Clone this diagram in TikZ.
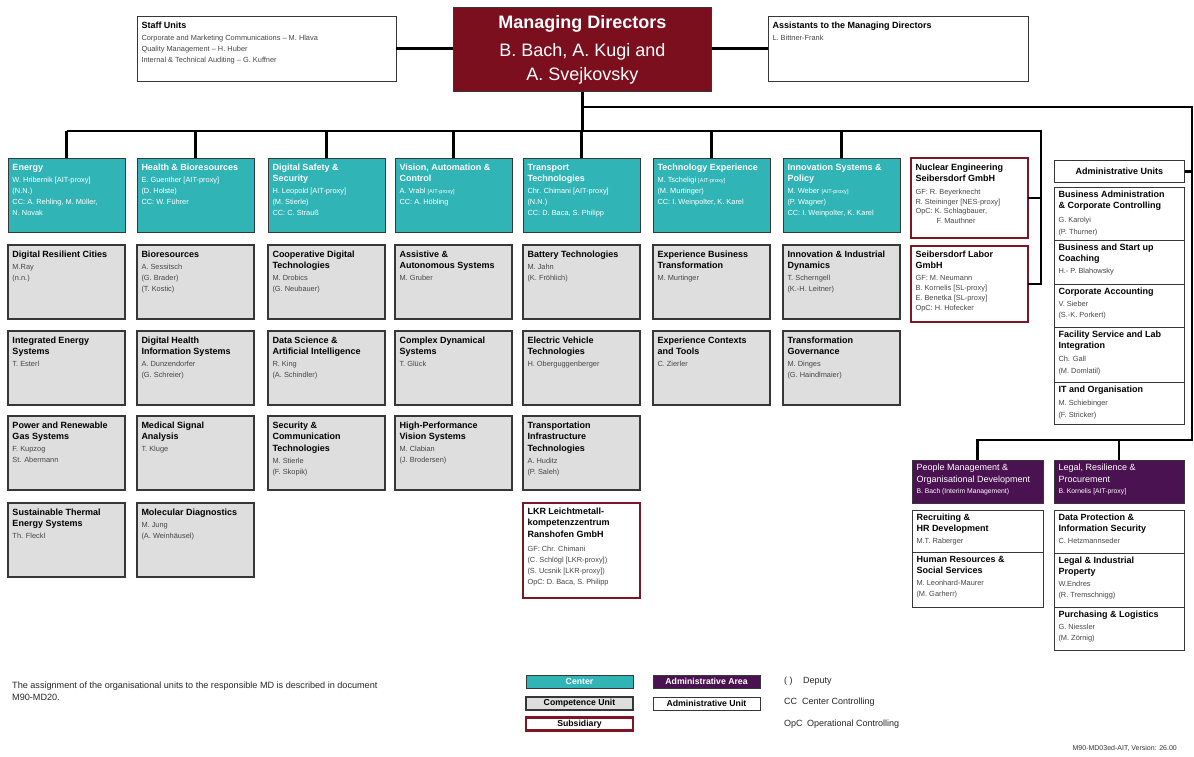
\documentclass[tikz,border=0pt]{standalone}
\usepackage{fontspec}
\setmainfont{Liberation Sans}
\definecolor{cteal}{RGB}{49,180,182}
\definecolor{cmd}{RGB}{123,15,30}
\definecolor{cpur}{RGB}{75,18,82}
\definecolor{cgry}{RGB}{222,222,222}
\definecolor{csub}{RGB}{125,22,38}
\definecolor{ctxt}{RGB}{70,70,70}
\definecolor{cbrd}{RGB}{55,55,55}
\newcommand\fbl{12pt}
\newcommand\ttl[1]{{\fontsize{9pt}{11.5pt}\selectfont\bfseries #1\par}\vspace{1pt}}
\newcommand\rtl[1]{{\fontsize{9pt}{12pt}\selectfont #1\par}}
\newcommand\cnt{\fontsize{7.4pt}{11pt}\selectfont}
\newcommand\cg{\fontsize{7.4pt}{11pt}\selectfont\color{ctxt}}
\newcommand\cgw{\fontsize{7.4pt}{12pt}\selectfont\color{ctxt}}
\newcommand\cns{\fontsize{7.4pt}{9.8pt}\selectfont\color{ctxt}}
\newcommand\sm[1]{{\fontsize{5.6pt}{11pt}\selectfont #1}}
\newcommand\orgbox[7]{\node[#2,anchor=north west,inner xsep=4.5pt,inner ysep=0pt,outer sep=0pt] (#1) at (#3,#4) {\parbox[t][#6pt][t]{\dimexpr#5pt-9pt\relax}{\raggedright\rule{0pt}{\fbl}#7}};}
\tikzset{
  ctrbox/.style={draw=cbrd,line width=1pt,fill=cteal,text=white},
  compbox/.style={draw=cbrd,line width=1.1pt,fill=cgry,text=black},
  subbox/.style={draw=csub,line width=1.8pt,fill=white,text=black},
  aunit/.style={draw=cbrd,line width=0.9pt,fill=white,text=black},
  areabox/.style={draw=cbrd,line width=0.9pt,fill=cpur,text=white},
  mdbox/.style={draw=cbrd,line width=0.8pt,fill=cmd,text=white},
  conn/.style={line width=2.3pt,black},
  legbox/.style={minimum width=107pt,minimum height=13pt,inner sep=0pt,font=\fontsize{8.7pt}{10pt}\selectfont\bfseries},
  legtxt/.style={anchor=base west,inner sep=0pt,font=\fontsize{9pt}{10pt}\selectfont,text=black!85}
}
\begin{document}
\begin{tikzpicture}[x=1pt,y=-1pt]
\fill[white] (0,0) rectangle (1194,756);
\useasboundingbox (0,0) rectangle (1194,756);

% top level
\orgbox{staff}{aunit}{137}{16}{259}{65}{\ttl{Staff Units}\cg Corporate and Marketing Communications – M. Hlava\\Quality Management – H. Huber\\Internal \& Technical Auditing – G. Kuffner}
\node[mdbox,anchor=north west,minimum width=258pt,minimum height=84pt,inner sep=0pt,align=center,font=\fontsize{18pt}{24pt}\selectfont] (md) at (453,7) {\textbf{Managing Directors}\\[4pt]B. Bach, A. Kugi and\\A. Svejkovsky};
\orgbox{asst}{aunit}{768}{16}{260}{65}{\ttl{Assistants to the Managing Directors}\cg L. Bittner-Frank}

% centers
\orgbox{c1}{ctrbox}{8}{158}{117}{74}{\ttl{Energy}\cnt W. Hribernik [AIT-proxy]\\(N.N.)\\CC: A. Rehling, M. Müller,\\N. Novak}
\orgbox{c2}{ctrbox}{137}{158}{117}{74}{\ttl{Health \& Bioresources}\cnt E. Guenther [AIT-proxy]\\(D. Holste)\\CC: W. Führer}
\orgbox{c3}{ctrbox}{268}{158}{117}{74}{\ttl{Digital Safety \&\\Security}\cnt H. Leopold [AIT-proxy]\\(M. Stierle)\\CC: C. Strauß}
\orgbox{c4}{ctrbox}{395}{158}{117}{74}{\ttl{Vision, Automation \&\\Control}\cnt A. Vrabl \sm{[AIT-proxy]}\\CC: A. Höbling}
\orgbox{c5}{ctrbox}{523}{158}{117}{74}{\ttl{Transport\\Technologies}\cnt Chr. Chimani [AIT-proxy]\\(N.N.)\\CC: D. Baca, S. Philipp}
\orgbox{c6}{ctrbox}{653}{158}{117}{74}{\ttl{Technology Experience}\cnt M. Tscheligi \sm{[AIT-proxy]}\\(M. Murtinger)\\CC: I. Weinpolter, K. Karel}
\orgbox{c7}{ctrbox}{783}{158}{117}{74}{\ttl{Innovation Systems \&\\Policy}\cnt M. Weber \sm{[AIT-proxy]}\\(P. Wagner)\\CC: I. Weinpolter, K. Karel}

% competence units
\orgbox{u11}{compbox}{8}{245}{117}{74}{\ttl{Digital Resilient Cities}\cg M.Ray\\(n.n.)}
\orgbox{u12}{compbox}{8}{331}{117}{74}{\ttl{Integrated Energy\\Systems}\cg T. Esterl}
\orgbox{u13}{compbox}{8}{416}{117}{74}{\ttl{Power and Renewable\\Gas Systems}\cg F. Kupzog\\St. Abermann}
\orgbox{u14}{compbox}{8}{503}{117}{74}{\ttl{Sustainable Thermal\\Energy Systems}\cg Th. Fleckl}
\orgbox{u21}{compbox}{137}{245}{117}{74}{\ttl{Bioresources}\cg A. Sessitsch\\(G. Brader)\\(T. Kostic)}
\orgbox{u22}{compbox}{137}{331}{117}{74}{\ttl{Digital Health\\Information Systems}\cg A. Dunzendorfer\\(G. Schreier)}
\orgbox{u23}{compbox}{137}{416}{117}{74}{\ttl{Medical Signal\\Analysis}\cg T. Kluge}
\orgbox{u24}{compbox}{137}{503}{117}{74}{\ttl{Molecular Diagnostics}\cg M. Jung\\(A. Weinhäusel)}
\orgbox{u31}{compbox}{268}{245}{117}{74}{\ttl{Cooperative Digital\\Technologies}\cg M. Drobics\\(G. Neubauer)}
\orgbox{u32}{compbox}{268}{331}{117}{74}{\ttl{Data Science \&\\Artificial Intelligence}\cg R. King\\(A. Schindler)}
\orgbox{u33}{compbox}{268}{416}{117}{74}{\ttl{Security \&\\Communication\\Technologies}\cg M. Stierle\\(F. Skopik)}
\orgbox{u41}{compbox}{395}{245}{117}{74}{\ttl{Assistive \&\\Autonomous Systems}\cg M. Gruber}
\orgbox{u42}{compbox}{395}{331}{117}{74}{\ttl{Complex Dynamical\\Systems}\cg T. Glück}
\orgbox{u43}{compbox}{395}{416}{117}{74}{\ttl{High-Performance\\Vision Systems}\cg M. Clabian\\(J. Brodersen)}
\orgbox{u51}{compbox}{523}{245}{117}{74}{\ttl{Battery Technologies}\cg M. Jahn\\(K. Fröhlich)}
\orgbox{u52}{compbox}{523}{331}{117}{74}{\ttl{Electric Vehicle\\Technologies}\cg H. Oberguggenberger}
\orgbox{u53}{compbox}{523}{416}{117}{74}{\ttl{Transportation\\Infrastructure\\Technologies}\cg A. Huditz\\(P. Saleh)}
\orgbox{u61}{compbox}{653}{245}{117}{74}{\ttl{Experience Business\\Transformation}\cg M. Murtinger}
\orgbox{u62}{compbox}{653}{331}{117}{74}{\ttl{Experience Contexts\\and Tools}\cg C. Zierler}
\orgbox{u71}{compbox}{783}{245}{117}{74}{\ttl{Innovation \& Industrial\\Dynamics}\cg T. Scherngell\\(K.-H. Leitner)}
\orgbox{u72}{compbox}{783}{331}{117}{74}{\ttl{Transformation\\Governance}\cg M. Dinges\\(G. Haindlmaier)}

% subsidiaries
\begin{scope}
\renewcommand\fbl{11pt}
\orgbox{lkr}{subbox}{523}{503}{117}{95}{\ttl{LKR Leichtmetall-\\kompetenzzentrum\\Ranshofen GmbH}\vspace{2pt}\cg GF: Chr. Chimani\\(C. Schlögl [LKR-proxy])\\(S. Ucsnik [LKR-proxy])\\OpC: D. Baca, S. Philipp}
\orgbox{sl}{subbox}{911}{246}{117}{76}{\ttl{Seibersdorf Labor\\GmbH}\vspace{1.5pt}\cns GF: M. Neumann\\B. Kornelis [SL-proxy]\\E. Benetka [SL-proxy]\\OpC: H. Hofecker}
\end{scope}
\orgbox{nes}{subbox}{911}{158}{117}{80}{\ttl{Nuclear Engineering\\Seibersdorf GmbH}\vspace{2pt}\cns GF: R. Beyerknecht\\R. Steininger [NES-proxy]\\OpC: K. Schlagbauer,\\\hspace*{21pt}F. Mauthner}

% administrative units
\node[aunit,anchor=north west,minimum width=130pt,minimum height=22pt,inner sep=0pt,font=\fontsize{9pt}{11pt}\selectfont\bfseries] (au) at (1054,160) {Administrative Units};
\begin{scope}
\renewcommand\fbl{10pt}
\orgbox{ba}{aunit}{1054}{187}{130}{53}{\ttl{Business Administration\\\& Corporate Controlling}\vspace{0.5pt}\cgw G. Karolyi\\(P. Thurner)}
\orgbox{bs}{aunit}{1054}{240}{130}{44}{\ttl{Business and Start up\\Coaching}\cg H.- P. Blahowsky}
\orgbox{ca}{aunit}{1054}{284}{130}{43}{\ttl{Corporate Accounting}\cg V. Sieber\\(S.-K. Porkert)}
\orgbox{fs}{aunit}{1054}{327}{130}{55}{\ttl{Facility Service and Lab\\Integration}\cgw Ch. Gall\\(M. Domlatil)}
\orgbox{it}{aunit}{1054}{382}{130}{42}{\ttl{IT and Organisation}\cgw M. Schiebinger\\(F. Stricker)}

\orgbox{pm}{areabox}{912}{460}{131}{43}{\rtl{People Management \&\\Organisational Development}\fontsize{6.8pt}{11.5pt}\selectfont B. Bach (Interim Management)}
\orgbox{lr}{areabox}{1054}{460}{130}{43}{\rtl{Legal, Resilience \&\\Procurement}\fontsize{6.8pt}{11.5pt}\selectfont B. Kornelis [AIT-proxy]}

\orgbox{rec}{aunit}{912}{510}{131}{42}{\ttl{Recruiting \&\\HR Development}\cg M.T. Raberger}
\orgbox{hr}{aunit}{912}{552}{131}{55}{\ttl{Human Resources \&\\Social Services}\cg M. Leonhard-Maurer\\(M. Garherr)}
\orgbox{dp}{aunit}{1054}{510}{130}{43}{\ttl{Data Protection \&\\Information Security}\cg C. Hetzmannseder}
\orgbox{li}{aunit}{1054}{553}{130}{54}{\ttl{Legal \& Industrial\\Property}\cg W.Endres\\(R. Tremschnigg)}
\orgbox{pl}{aunit}{1054}{607}{130}{43}{\ttl{Purchasing \& Logistics}\cg G. Niessler\\(M. Zörnig)}
\end{scope}

% connectors
\coordinate (tl) at (1192,107);
\coordinate (bl) at (1041,131);
\coordinate (ab) at (1192,440);
\draw[conn] (staff.east) -- (staff.east -| md.west);
\draw[conn] (asst.west -| md.east) -- (asst.west);
\draw[conn] (md.south) -- (md.south |- bl);
\draw[conn] (md.south |- tl) -- (tl) -- (ab) -- (pm.north |- ab) -- (pm.north);
\draw[conn] (lr.north |- ab) -- (lr.north);
\draw[conn] (au.east) -- (au.east -| tl);
\draw[conn] (c1.north |- bl) -- (bl) -- (bl |- sl.east) -- (sl.east);
\draw[conn] (bl |- nes.east) -- (nes.east);
\foreach \i in {1,...,7} {\draw[conn] (c\i.north) -- (c\i.north |- bl);}

% footnote
\node[anchor=base west,inner sep=0pt,font=\fontsize{9.1pt}{12pt}\selectfont,text=black!85] (note1) at (12,688) {The assignment of the organisational units to the responsible MD is described in document};
\node[anchor=base west,inner sep=0pt,font=\fontsize{9.1pt}{12pt}\selectfont,text=black!85] (note2) at (12,700) {M90-MD20.};

% legend
\node[ctrbox,legbox,text=white] (lc) at (579.5,681.5) {Center};
\node[compbox,legbox] (lu) at (579.5,703.5) {Competence Unit};
\node[subbox,legbox,line width=2.3pt] (ls) at (579.5,724) {Subsidiary};
\node[areabox,legbox] (la) at (706.5,681.5) {Administrative Area};
\node[aunit,legbox] (lau) at (706.5,703.5) {Administrative Unit};
\node[legtxt] (k1) at (784,683) {( )};
\node[legtxt] (k1t) at (803,683) {Deputy};
\node[legtxt] (k2) at (784,704) {CC};
\node[legtxt] (k2t) at (802,704) {Center Controlling};
\node[legtxt] (k3) at (784,726) {OpC};
\node[legtxt] (k3t) at (807,726) {Operational Controlling};
\node[anchor=base east,inner sep=0pt,font=\fontsize{7pt}{8pt}\selectfont,text=black!80] (ver) at (1177,750) {M90-MD03ed-AIT, Version: 26.00};
\end{tikzpicture}
\end{document}
